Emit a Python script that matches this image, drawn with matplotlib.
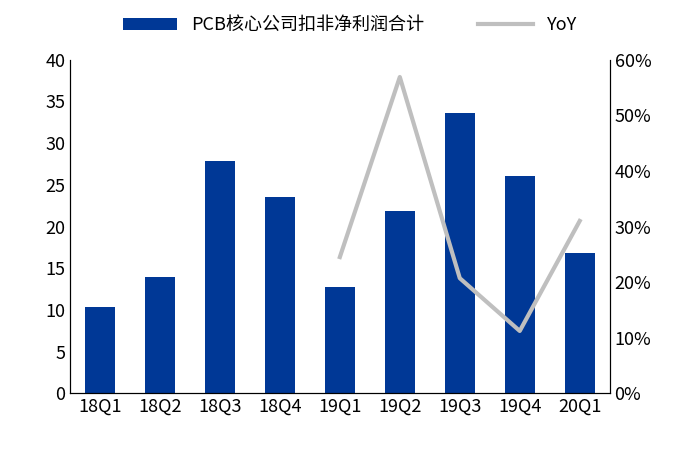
import matplotlib
matplotlib.use("Agg")
from matplotlib import pyplot as plt

plt.rcParams['font.family'] = ['Noto Sans CJK SC', 'DejaVu Sans']

quarters = ['18Q1', '18Q2', '18Q3', '18Q4', '19Q1', '19Q2', '19Q3', '19Q4', '20Q1']
profit = [10.4, 14.0, 27.9, 23.5, 12.8, 21.9, 33.6, 26.0, 16.8]
yoy_quarters = ['19Q1', '19Q2', '19Q3', '19Q4', '20Q1']
yoy = [24.5, 56.9, 20.7, 11.2, 31.0]

fig = plt.figure(figsize=(7, 4.53), dpi=100)
ax = fig.add_axes([0.1, 0.132, 0.771, 0.736])
x = list(range(len(quarters)))
b = ax.bar(x, profit, width=0.5, color='#003896', label='PCB核心公司扣非净利润合计')
ax.set_ylim(0, 40)
ax.set_yticks(range(0, 41, 5))
ax.set_xlim(-0.5, len(quarters) - 0.5)
ax.set_xticks(x)
ax.set_xticklabels(quarters)
ax.spines['top'].set_visible(False)
ax.tick_params(axis='both', labelsize=13, length=0)

ax2 = ax.twinx()
yx = [quarters.index(q) for q in yoy_quarters]
l, = ax2.plot(yx, yoy, color='#bfbfbf', lw=3, label='YoY')
ax2.set_ylim(0, 60)
ax2.set_yticks(range(0, 61, 10))
ax2.set_yticklabels([f'{v}%' for v in range(0, 61, 10)])
ax2.spines['top'].set_visible(False)
ax2.tick_params(axis='y', labelsize=13, length=0)

fig.legend(handles=[b, l], loc='upper center', bbox_to_anchor=(0.5, 1.0), ncol=2,
           frameon=False, fontsize=13, handlelength=3, columnspacing=3)
fig.savefig('out.png')
